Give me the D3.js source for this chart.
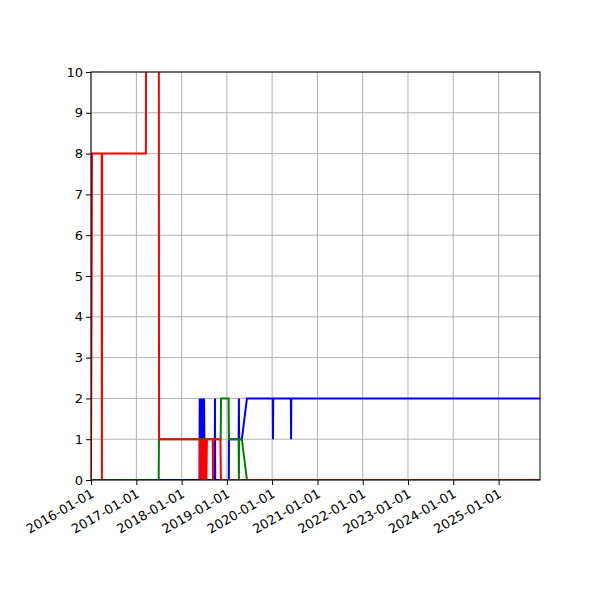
<!DOCTYPE html>
<html><head><meta charset="utf-8">
<script src="https://cdn.jsdelivr.net/npm/d3@7"></script>
<style>body{margin:0;background:#fff}text{font-family:"DejaVu Sans",sans-serif}</style>
</head><body><div id="app"></div>
<script>
"use strict";
const xTicks = ["2016-01-01","2017-01-01","2018-01-01","2019-01-01","2020-01-01","2021-01-01","2022-01-01","2023-01-01","2024-01-01","2025-01-01"];
const yTicks = [0,1,2,3,4,5,6,7,8,9,10];

const blueSeries = [
  ["2016-01-01",0],["2018-05-25",0],["2018-05-27",2],["2018-06-01",0],["2018-06-05",2],["2018-06-12",0],
  ["2018-06-18",2],["2018-06-25",0],["2018-07-01",2],["2018-07-06",0],["2018-09-25",0],["2018-09-27",2],
  ["2018-09-29",0],["2019-01-17",0],["2019-01-18",1],["2019-04-06",1],["2019-04-08",2],["2019-04-10",1],
  ["2019-05-02",1],["2019-06-12",2],["2020-01-06",2],["2020-01-08",1],["2020-01-10",2],["2020-05-31",2],
  ["2020-06-02",1],["2020-06-04",2],["2025-12-01",2]
];
const greenSeries = [
  ["2016-01-01",0],["2017-06-30",0],["2017-07-02",1],["2018-11-12",1],["2018-11-15",2],["2019-01-15",2],
  ["2019-01-18",1],["2019-04-06",1],["2019-04-08",0],["2019-04-10",1],["2019-05-02",1],["2019-06-12",0],
  ["2025-12-01",0]
];
const redSeries = [
  ["2016-01-01",0],["2016-01-09",8],["2016-03-27",8],["2016-03-29",0],["2016-03-31",8],["2017-03-19",8],
  ["2017-03-21",12],["2017-07-01",12],["2017-07-03",1],["2018-05-28",1],["2018-05-30",0],["2018-06-05",1],
  ["2018-06-10",0],["2018-06-15",1],["2018-06-20",0],["2018-06-28",1],["2018-07-05",0],["2018-07-12",1],
  ["2018-07-20",0],["2018-07-24",1],["2018-09-09",1],["2018-09-11",0],["2018-09-14",1],["2018-11-10",1],
  ["2018-11-14",0],["2025-12-01",0]
];

const parse = d3.utcParse("%Y-%m-%d");
const m = {l: 91, r: 540, t: 72, b: 480};
const x = d3.scaleUtc().domain([parse("2016-01-01"), parse("2025-12-01")]).range([m.l, m.r]);
const y = d3.scaleLinear().domain([0, 10]).range([m.b, m.t]);

const svg = d3.select("#app").append("svg").attr("width", 600).attr("height", 600);
svg.append("defs").append("clipPath").attr("id", "clip")
  .append("rect").attr("x", m.l).attr("y", m.t).attr("width", m.r - m.l).attr("height", m.b - m.t);

// grid
svg.append("g").selectAll("line").data(xTicks).join("line")
  .attr("x1", d => x(parse(d))).attr("x2", d => x(parse(d)))
  .attr("y1", m.t).attr("y2", m.b).attr("stroke", "#b0b0b0").attr("stroke-width", 1);
svg.append("g").selectAll("line").data(yTicks).join("line")
  .attr("y1", d => y(d)).attr("y2", d => y(d))
  .attr("x1", m.l).attr("x2", m.r).attr("stroke", "#b0b0b0").attr("stroke-width", 1);

// lines
const line = d3.line().x(d => x(parse(d[0]))).y(d => y(d[1]));
const plot = svg.append("g").attr("clip-path", "url(#clip)");
[[blueSeries, "blue"], [greenSeries, "green"], [redSeries, "red"]].forEach(([s, c]) => {
  plot.append("path").datum(s).attr("d", line).attr("fill", "none")
    .attr("stroke", c).attr("stroke-width", 2);
});

// axes
const xAxis = svg.append("g").attr("transform", `translate(0,${m.b})`)
  .call(d3.axisBottom(x).tickValues(xTicks.map(parse)).tickFormat(d3.utcFormat("%Y-%m-%d")).tickSizeOuter(0).tickSize(5));
xAxis.selectAll("text").attr("font-size", 13).attr("text-anchor", "end")
  .attr("dx", "-0.4em").attr("dy", "0.6em").attr("transform", "rotate(-30)")
  .style("font-family", "DejaVu Sans");
const yAxis = svg.append("g").attr("transform", `translate(${m.l},0)`)
  .call(d3.axisLeft(y).tickValues(yTicks).tickSizeOuter(0).tickSize(5));
yAxis.selectAll("text").attr("font-size", 13).style("font-family", "DejaVu Sans");
[xAxis, yAxis].forEach(a => a.select(".domain").remove());

svg.append("rect").attr("x", m.l).attr("y", m.t).attr("width", m.r - m.l).attr("height", m.b - m.t)
  .attr("fill", "none").attr("stroke", "#000").attr("stroke-width", 1);
</script></body></html>
